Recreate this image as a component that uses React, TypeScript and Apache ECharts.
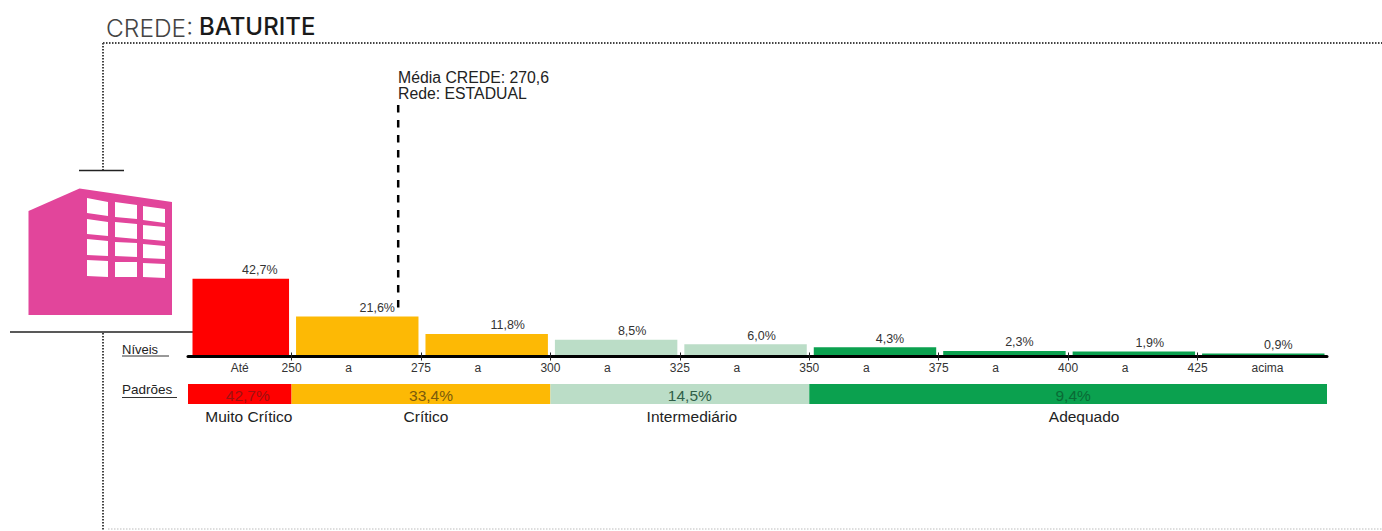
import React, { useEffect, useRef } from "react";
import * as echarts from "echarts";

const levelFrom = [230, 250, 275, 300, 325, 350, 375, 400, 425];
const levelTo = [250, 275, 300, 325, 350, 375, 400, 425, 450];
const levelShare = [42.7, 21.6, 11.8, 8.5, 6.0, 4.3, 2.3, 1.9, 0.9];
const levelBand = [0, 1, 1, 2, 2, 3, 3, 3, 3];

const bandNames = ["Muito Crítico", "Crítico", "Intermediário", "Adequado"];
const bandFrom = [230, 250, 300, 350];
const bandTo = [250, 300, 350, 450];
const bandShare = [42.7, 33.4, 14.5, 9.4];
const bandColors = ["#FF0000", "#FDB905", "#BBDDC7", "#0BA14F"];
const bandInk = ["#A01010", "#7A5A0C", "#2F5F48", "#0A6A35"];

const tickValues = [250, 275, 300, 325, 350, 375, 400, 425];
const axisTexts: Record<number, string> = {
  240: "Até", 250: "250", 261: "a", 275: "275", 286: "a", 300: "300", 311: "a", 325: "325",
  336: "a", 350: "350", 361: "a", 375: "375", 386: "a", 400: "400", 411: "a", 425: "425", 438.5: "acima",
};
const axisTextValues = Object.keys(axisTexts).map(Number).sort((a, b) => a - b);

const meanScore = 270.6;
const crede = "BATURITE";
const network = "ESTADUAL";

// Horizontal pixel nudges: the printed labels sit right of their bar or band centres.
const levelLabelNudge = [19, 20, 21, 16, 16, 15, 15, 16, 15];
const bandShareNudge = [8, 10, 10, 5];
const bandNameNudge = [9, 5, 12, 16];

const FONT = '"Liberation Sans", Arial, sans-serif';
const HEADING = 'Inter, "Open Sans", sans-serif';
const pct = (v: number) => v.toFixed(1).replace(".", ",") + "%";

const PINK = "#E2459B";
const windows: number[][][] = [
  [[87, 198], [108, 202], [108, 216], [87, 213]],
  [[115, 202], [137, 205], [137, 219], [115, 217]],
  [[143, 206], [165, 209], [165, 223], [143, 220]],
  [[87, 219], [108, 222], [108, 236], [87, 234]],
  [[115, 222], [137, 224], [137, 239], [115, 237]],
  [[143, 225], [165, 227], [165, 241], [143, 239]],
  [[87, 239], [108, 241], [108, 256], [87, 255]],
  [[115, 242], [137, 243], [137, 257], [115, 256]],
  [[143, 244], [165, 246], [165, 259], [143, 258]],
  [[87, 260], [108, 261], [108, 277], [87, 276]],
  [[115, 262], [137, 262], [137, 277], [115, 277]],
  [[143, 263], [165, 264], [165, 278], [143, 277]],
];

const rule = (x1: number, y1: number, x2: number, y2: number, stroke = "#222", lineWidth = 1.5, lineDash?: number[]) => ({
  type: "line",
  silent: true,
  shape: { x1, y1, x2, y2 },
  style: { stroke, lineWidth, lineDash },
});

const caption = (text: string, x: number, y: number, font: string, fill = "#222", align = "left") => ({
  type: "text",
  silent: true,
  x,
  y,
  style: { text, font, fill, align, verticalAlign: "middle" },
});

export default function App() {
  const ref = useRef<HTMLDivElement>(null);

  useEffect(() => {
    const chart = echarts.init(ref.current!, null, { renderer: "svg" });

    const sharedX = { type: "value", min: 230, max: 450, splitLine: { show: false } };

    chart.setOption({
      animation: false,
      backgroundColor: "#fff",
      grid: [
        { left: 188, width: 1139, top: 105, height: 250 },
        { left: 188, width: 1139, top: 384, height: 20 },
      ],
      xAxis: [
        {
          ...sharedX,
          gridIndex: 0,
          position: "bottom",
          offset: 1.5,
          axisLine: { show: true, onZero: false, lineStyle: { color: "#000", width: 3 } },
          axisTick: { show: true, customValues: tickValues, length: 4, lineStyle: { color: "#222", width: 1 } },
          axisLabel: {
            show: true,
            customValues: axisTextValues,
            formatter: (v: number) => axisTexts[v] ?? "",
            fontFamily: FONT,
            fontSize: 12,
            color: "#333",
            margin: 5,
            hideOverlap: false,
          },
        },
        {
          ...sharedX,
          gridIndex: 0,
          position: "bottom",
          offset: 1.5,
          axisLine: { show: false, onZero: false },
          axisTick: { show: true, inside: true, customValues: tickValues, length: 4, lineStyle: { color: "#222", width: 1 } },
          axisLabel: { show: false },
        },
        { ...sharedX, gridIndex: 1, show: false },
      ],
      yAxis: [
        { type: "value", gridIndex: 0, min: 0, max: 140, show: false },
        { type: "value", gridIndex: 1, min: 0, max: 1, show: false },
      ],
      series: [
        {
          type: "custom",
          xAxisIndex: 0,
          yAxisIndex: 0,
          clip: false,
          silent: true,
          data: levelShare.map((v, i) => [levelFrom[i], levelTo[i], v, levelBand[i]]),
          encode: { x: [0, 1], y: 2 },
          renderItem: (p: any, api: any) => {
            const i = p.dataIndex;
            const [x0, y0] = api.coord([api.value(0), 0]);
            const [x1, y1] = api.coord([api.value(1), api.value(2)]);
            const left = x0 + 4.5;
            const right = x1 - 2.5;
            return {
              type: "group",
              children: [
                {
                  type: "rect",
                  shape: { x: left, y: y1, width: right - left, height: y0 - y1 },
                  style: { fill: bandColors[api.value(3)] },
                },
                {
                  type: "text",
                  x: (left + right) / 2 + levelLabelNudge[i],
                  y: y1 - 8.5,
                  style: {
                    text: pct(api.value(2)),
                    font: `12.5px ${FONT}`,
                    fill: "#333",
                    align: "center",
                    verticalAlign: "middle",
                  },
                },
              ],
            };
          },
        },
        {
          type: "line",
          xAxisIndex: 0,
          yAxisIndex: 0,
          silent: true,
          symbol: "none",
          data: [
            [meanScore, 140],
            [meanScore, 25],
          ],
          lineStyle: { color: "#000", width: 2.5, type: [7.5, 7.5] },
          z: 5,
        },
        {
          type: "custom",
          xAxisIndex: 2,
          yAxisIndex: 1,
          clip: false,
          silent: true,
          data: bandShare.map((v, i) => [bandFrom[i], bandTo[i], v]),
          encode: { x: [0, 1] },
          renderItem: (p: any, api: any) => {
            const i = p.dataIndex;
            const [x0, yBottom] = api.coord([api.value(0), 0]);
            const [x1, yTop] = api.coord([api.value(1), 1]);
            const mid = (x0 + x1) / 2;
            return {
              type: "group",
              children: [
                {
                  type: "rect",
                  shape: { x: x0, y: yTop, width: x1 - x0, height: yBottom - yTop },
                  style: { fill: bandColors[i] },
                },
                {
                  type: "text",
                  x: mid + bandShareNudge[i],
                  y: (yTop + yBottom) / 2 + 1,
                  style: {
                    text: pct(api.value(2)),
                    font: `15.5px ${FONT}`,
                    fill: bandInk[i],
                    align: "center",
                    verticalAlign: "middle",
                  },
                },
                {
                  type: "text",
                  x: mid + bandNameNudge[i],
                  y: yBottom + 12,
                  style: {
                    text: bandNames[i],
                    font: `15.5px ${FONT}`,
                    fill: "#222",
                    align: "center",
                    verticalAlign: "middle",
                  },
                },
              ],
            };
          },
        },
      ],
      graphic: [
        caption("CREDE:", 106, 28, `300 24.5px ${HEADING}`, "#444"),
        caption(crede, 199, 26, `500 24px ${HEADING}`, "#1a1a1a"),
        rule(103, 43, 1382, 43, "#444", 2, [1.5, 1.5]),
        rule(103, 43, 103, 170, "#444", 2, [1.5, 1.5]),
        rule(79, 170.5, 124, 170.5),
        rule(10, 332, 193, 332),
        rule(103, 333, 103, 531, "#444", 2, [1.5, 1.5]),
        rule(108, 529, 1382, 529, "#ddd", 2, [1.5, 1.5]),
        {
          type: "polygon",
          silent: true,
          shape: { points: [[28.5, 211], [79.5, 188.5], [172, 202], [172, 315], [28.5, 315]] },
          style: { fill: PINK },
        },
        ...windows.map((points) => ({
          type: "polygon",
          silent: true,
          shape: { points },
          style: { fill: "#fff" },
        })),
        caption("Média CREDE: " + meanScore.toFixed(1).replace(".", ","), 398, 77, `15.8px ${FONT}`),
        caption("Rede: " + network, 398, 93, `15.8px ${FONT}`),
        caption("Níveis", 122, 349, `13px ${FONT}`, "#222"),
        rule(122, 356, 169, 356, "#333", 1),
        caption("Padrões", 122, 389.5, `13.5px ${FONT}`, "#222"),
        rule(122, 397.5, 177, 397.5, "#333", 1),
      ],
    });

    return () => chart.dispose();
  }, []);

  return <div ref={ref} style={{ position: "fixed", left: 0, top: 0, width: 1382, height: 531 }} />;
}
